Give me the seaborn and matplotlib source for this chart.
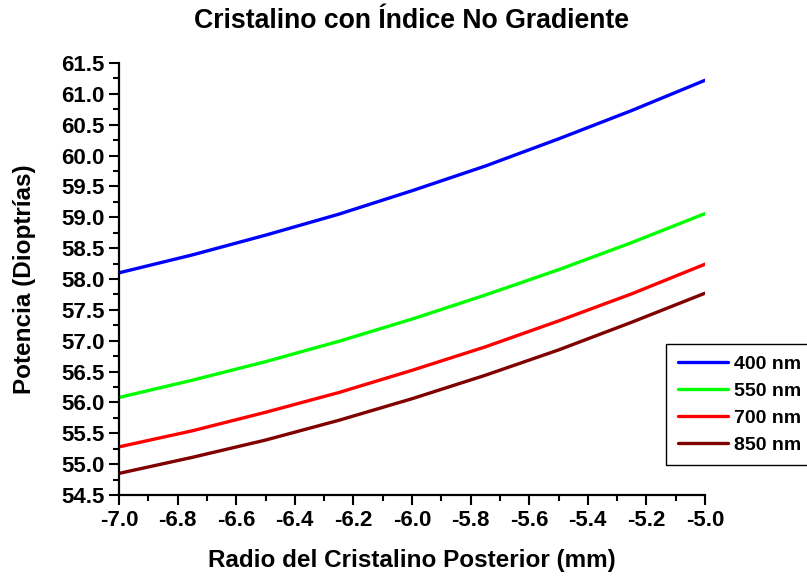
import numpy as np
import pandas as pd
import matplotlib
matplotlib.use("Agg")
import matplotlib.pyplot as plt
from matplotlib.ticker import MultipleLocator, FormatStrFormatter
import seaborn as sns

# Data
radio = [-7.0, -6.75, -6.5, -6.25, -6.0, -5.75, -5.5, -5.25, -5.0]
p400 = [58.10, 58.39, 58.71, 59.05, 59.43, 59.83, 60.27, 60.73, 61.22]
p550 = [56.08, 56.36, 56.66, 56.99, 57.35, 57.74, 58.15, 58.59, 59.06]
p700 = [55.28, 55.54, 55.84, 56.16, 56.52, 56.90, 57.32, 57.76, 58.24]
p850 = [54.85, 55.11, 55.39, 55.71, 56.06, 56.44, 56.85, 57.30, 57.77]
series_names = ["400 nm", "550 nm", "700 nm", "850 nm"]
colors = ["#0000FF", "#00FF00", "#FF0000", "#800000"]

df = pd.concat([
    pd.DataFrame({"Radio": radio, "Potencia": vals, "Serie": name})
    for name, vals in zip(series_names, [p400, p550, p700, p850])
], ignore_index=True)

sns.set_style("ticks")
plt.rcParams["font.family"] = ["Liberation Sans", "DejaVu Sans"]
plt.rcParams["font.weight"] = "bold"
plt.rcParams["text.color"] = "black"
plt.rcParams["axes.labelcolor"] = "black"
plt.rcParams["xtick.color"] = "black"
plt.rcParams["ytick.color"] = "black"
plt.rcParams["axes.unicode_minus"] = False

W, H = 807, 580
fig = plt.figure(figsize=(W / 100, H / 100), dpi=100)
ax = fig.add_axes([119 / W, 1 - 495 / H, (705 - 119) / W, (495 - 63) / H])

sns.lineplot(data=df, x="Radio", y="Potencia", hue="Serie",
             palette=dict(zip(series_names, colors)), linewidth=2.4,
             ax=ax, legend=True, sort=True)

ax.set_xlim(-7.0, -5.0)
ax.set_ylim(54.5, 61.5)
ax.xaxis.set_major_locator(MultipleLocator(0.2))
ax.xaxis.set_minor_locator(MultipleLocator(0.1))
ax.yaxis.set_major_locator(MultipleLocator(0.5))
ax.yaxis.set_minor_locator(MultipleLocator(0.25))
ax.xaxis.set_major_formatter(FormatStrFormatter("%.1f"))
ax.yaxis.set_major_formatter(FormatStrFormatter("%.1f"))

for s in ["top", "right"]:
    ax.spines[s].set_visible(False)
for s in ["left", "bottom"]:
    ax.spines[s].set_linewidth(1.6)
    ax.spines[s].set_color("black")

ax.tick_params(which="major", direction="out", length=7, width=1.5,
               labelsize=16, pad=3.5, colors="black")
ax.tick_params(which="minor", direction="out", length=4, width=1.5, colors="black")
for lab in ax.get_xticklabels() + ax.get_yticklabels():
    lab.set_fontweight("bold")

ax.set_xlabel("Radio del Cristalino Posterior (mm)", fontsize=17.5, fontweight="bold")
ax.set_ylabel("Potencia (Dioptrías)", fontsize=17.5, fontweight="bold")
ax.xaxis.set_label_coords(0.5, (495 - 549) / (495 - 63))
ax.yaxis.set_label_coords((36 - 119) / (705 - 119), 0.5)

fig.text(411 / W, 1 - 21 / H, "Cristalino con Índice No Gradiente",
         ha="center", va="center", fontsize=19.2, fontweight="bold")

handles, labels = ax.get_legend_handles_labels()
leg = ax.legend(handles, labels, loc="upper left",
                bbox_to_anchor=(666 / W, 1 - 344 / H), bbox_transform=fig.transFigure,
                borderaxespad=0, frameon=True, fancybox=False, shadow=False,
                prop={"size": 14, "weight": "bold"}, handlelength=2.6,
                handletextpad=0.3, labelspacing=0.47, borderpad=0.6)
leg.get_frame().set_edgecolor("black")
leg.get_frame().set_linewidth(1.0)
leg.get_frame().set_alpha(1)
for line in leg.get_lines():
    line.set_linewidth(2.4)

fig.savefig("out.png", dpi=100)
